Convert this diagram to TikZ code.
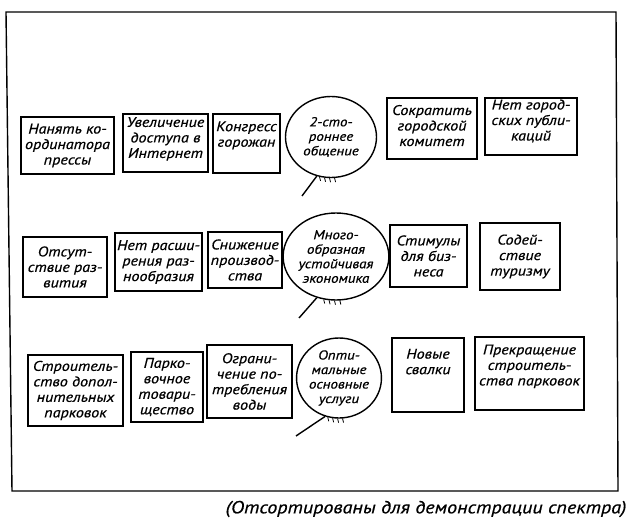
\documentclass[tikz,border=0pt]{standalone}
\usepackage{fontspec}
\newfontfamily\handfont{PT Sans}[FakeStretch=1.15, FakeBold=0.6]
\usepackage{tikz}
\usetikzlibrary{shapes.geometric}

\begin{document}
\begin{tikzpicture}[
    x                  = 1pt,
    y                  = -1pt,
    line width         = 1.4pt,
    every node/.style  = {font=\handfont\itshape\fontsize{14}{15.5}\selectfont, align=center, inner sep=1pt},
    cell/.style 2 args = {draw, minimum width=#1, minimum height=#2},
    goal/.style 2 args = {draw, ellipse, inner sep=0pt, minimum width=#1, minimum height=#2, font=\handfont\itshape\fontsize{13}{14.5}\selectfont},
    hatch/.style       = {line width=0.8pt}
  ]
\useasboundingbox (0,0) rectangle (629,527);
\draw (6,12) -- (616,12) -- (618,491) -- (12,491) -- cycle;

% first row
\node[cell={93}{57}] (r1a) at (67.5,145.5) {Нанять ко-\\ординатора\\прессы};
\node[cell={85}{58}, text depth=11pt] (r1b) at (165.5,143) {Увеличение\\доступа в\\Интернет};
\node[cell={67}{59}, text depth=19pt] (r1c) at (246.5,143.5) {Конгресс\\горожан};
\node[goal={91}{81}] (e1) at (331,137) {2-сто-\\роннее\\общение};
\node[cell={90}{61}, text depth=6pt] (r1e) at (432,128.5) {Сократить\\городской\\комитет};
\node[cell={92}{57}, text depth=13pt] (r1f) at (531,126.5) {Нет город-\\ских публи-\\каций};

% second row
\node[cell={84}{60}] (r2a) at (65,267) {Отсут-\\ствие раз-\\вития};
\node[cell={87}{58}] (r2b) at (158.5,262) {Нет расши-\\рения раз-\\нообразия};
\node[cell={74}{56}] (r2c) at (245,260) {Снижение\\производ-\\ства};
\node[goal={88}{87}] (e2) at (336,256.5) {Много-\\образная\\устойчивая\\экономика};
\node[cell={77}{62}] (r2e) at (428.5,256) {Стимулы\\для биз-\\неса};
\node[cell={80}{67}] (r2f) at (520,256.5) {Содей-\\ствие\\туризму};

% third row
\node[cell={95}{71}] (r3a) at (75.5,390.5) {Строитель-\\ство допол-\\нительных\\парковок};
\node[cell={72}{70}] (r3b) at (167,387) {Парко-\\вочное\\товари-\\щество};
\node[cell={85}{73}] (r3c) at (249.5,381.5) {Ограни-\\чение по-\\требления\\воды};
\node[goal={82}{80}] (e3) at (339,378) {Опти-\\мальные\\основные\\услуги};
\node[cell={72}{74}, text depth=27pt] (r3e) at (428,375) {Новые\\свалки};
\node[cell={109}{73}, text depth=17pt] (r3f) at (529.5,373.5) {Прекращение\\строитель-\\ства парковок};

% tails of the circles
\coordinate (t1) at (302,196);
\coordinate (t2) at (299,318);
\coordinate (t3) at (296,436);
\draw (e1.-110) -- (t1);
\draw (e2.-115) -- (t2);
\draw (e3.-110) -- (t3);
\foreach \a in {-106,-99,-92,-85} {
  \draw[hatch] (e1.\a) -- ++(1,4);
  \draw[hatch] (e2.\a) -- ++(1,4);
  \draw[hatch] (e3.\a) -- ++(1,4);
}

\node[font=\handfont\itshape\fontsize{17.5}{19}\selectfont] (cap) at (426,509) {(Отсортированы для демонстрации спектра)};
\end{tikzpicture}
\end{document}
